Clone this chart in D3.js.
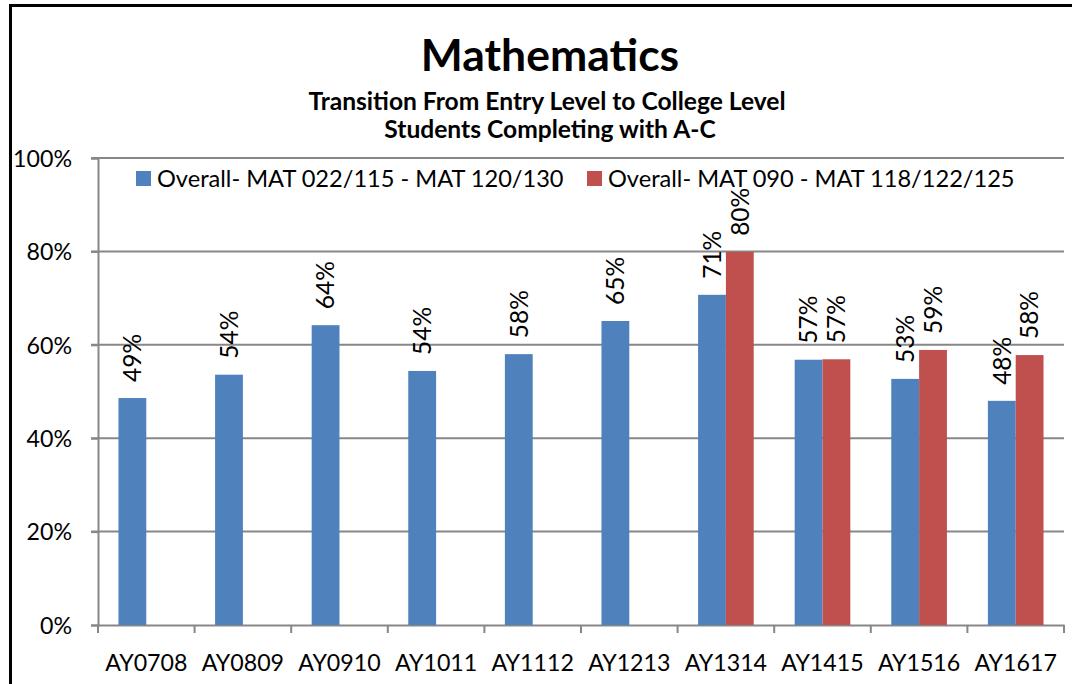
<!DOCTYPE html>
<html lang="en">

<head>
  <meta charset="UTF-8">
  <title>Mathematics</title>
  <script src="https://d3js.org/d3.v7.min.js"></script>
  <style>
    body {
      margin: 0;
      background: #fff;
    }

    text {
      font-family: Lato, "Open Sans", sans-serif;
      fill: #000;
    }

    .title {
      font-weight: bold;
      text-anchor: middle;
    }

    .grid line {
      stroke: #878787;
      stroke-width: 2;
    }
  </style>
</head>

<body>
  <svg width="1072" height="684"></svg>
  <script>
    // data
    const categories = ['AY0708', 'AY0809', 'AY0910', 'AY1011', 'AY1112', 'AY1213', 'AY1314', 'AY1415', 'AY1516', 'AY1617'];
    const seriesNames = ['Overall- MAT 022/115 - MAT 120/130', 'Overall- MAT 090 - MAT 118/122/125'];
    const blueValues = [0.486, 0.536, 0.642, 0.544, 0.580, 0.651, 0.707, 0.568, 0.527, 0.480];
    const redValues = [null, null, null, null, null, null, 0.799, 0.569, 0.589, 0.578];
    const yTicks = [0, 0.2, 0.4, 0.6, 0.8, 1.0];
    const colors = ['#4F81BD', '#C0504D'];

    const svg = d3.select('svg');

    // outer frame (right and bottom edges fall outside the picture)
    svg.append('rect')
      .attr('x', 10.5)
      .attr('y', 5.5)
      .attr('width', 1100)
      .attr('height', 700)
      .attr('fill', 'none')
      .attr('stroke', '#000')
      .attr('stroke-width', 3);

    const pLeft = 98;
    const pRight = 1064;
    const pTop = 158;
    const pBottom = 625;

    const x0 = d3.scaleBand()
      .domain(categories)
      .range([pLeft, pRight]);

    const bw = x0.bandwidth();
    const x1 = d3.scaleBand()
      .domain([0, 1])
      .range([bw * 0.212, bw * 0.788]);

    const y = d3.scaleLinear()
      .domain([0, 1])
      .range([pBottom, pTop]);

    // titles
    svg.append('text')
      .attr('class', 'title')
      .attr('x', 550)
      .attr('y', 71)
      .style('font-size', '44.5px')
      .text('Mathematics');

    svg.append('text')
      .attr('class', 'title')
      .attr('x', 547)
      .attr('y', 110)
      .style('font-size', '24.6px')
      .text('Transition From Entry Level to College Level');

    svg.append('text')
      .attr('class', 'title')
      .attr('x', 550)
      .attr('y', 138)
      .style('font-size', '24.6px')
      .text('Students Completing with A-C');

    // gridlines
    svg.append('g')
      .attr('class', 'grid')
      .selectAll('line')
      .data(yTicks.filter(d => d > 0))
      .enter()
      .append('line')
      .attr('x1', pLeft - 7)
      .attr('x2', pRight)
      .attr('y1', d => y(d))
      .attr('y2', d => y(d));

    // y axis
    const yAxis = svg.append('g')
      .attr('transform', `translate(${pLeft},0)`)
      .call(d3.axisLeft(y).tickValues(yTicks).tickFormat(d3.format('.0%')).tickSize(7).tickPadding(19));
    yAxis.select('.domain').attr('stroke', '#878787').attr('stroke-width', 2);
    yAxis.selectAll('.tick line').attr('stroke', '#878787').attr('stroke-width', 2);
    yAxis.selectAll('text').style('font-size', '23.2px').attr('dy', '0.36em');

    // x axis, ticks at category boundaries
    const xAxis = svg.append('g')
      .attr('transform', `translate(0,${pBottom})`)
      .call(d3.axisBottom(x0).tickSize(0).tickPadding(30));
    xAxis.select('.domain').attr('stroke', '#878787').attr('stroke-width', 2);
    xAxis.selectAll('text').style('font-size', '23.2px');
    xAxis.selectAll('.bound')
      .data(d3.range(categories.length + 1))
      .enter()
      .append('line')
      .attr('class', 'bound')
      .attr('x1', i => pLeft + i * bw)
      .attr('x2', i => pLeft + i * bw)
      .attr('y1', 0)
      .attr('y2', 8)
      .attr('stroke', '#878787')
      .attr('stroke-width', 2);

    // bars
    const rows = [];
    categories.forEach((c, i) => {
      [blueValues[i], redValues[i]].forEach((v, s) => {
        if (v !== null) rows.push({ cat: c, s, v });
      });
    });

    const bars = svg.append('g')
      .selectAll('g')
      .data(rows)
      .enter()
      .append('g');

    bars.append('rect')
      .attr('x', d => x0(d.cat) + x1(d.s))
      .attr('y', d => y(d.v))
      .attr('width', x1.bandwidth())
      .attr('height', d => y(0) - y(d.v))
      .attr('fill', d => colors[d.s]);

    bars.append('text')
      .attr('transform', d => `translate(${x0(d.cat) + x1(d.s) + x1.bandwidth() / 2},${y(d.v) - 16}) rotate(-90)`)
      .attr('dy', '0.36em')
      .style('font-size', '24.5px')
      .text(d => `${Math.round(d.v * 100)}%`);

    // legend
    const legend = svg.append('g')
      .selectAll('g')
      .data(seriesNames)
      .enter()
      .append('g')
      .attr('transform', (d, i) => `translate(${[136, 587][i]},171)`);

    legend.append('rect')
      .attr('width', 15)
      .attr('height', 15)
      .attr('fill', (d, i) => colors[i]);

    legend.append('text')
      .attr('x', 21)
      .attr('y', 16)
      .style('font-size', '23.6px')
      .text(d => d);
  </script>
</body>

</html>
